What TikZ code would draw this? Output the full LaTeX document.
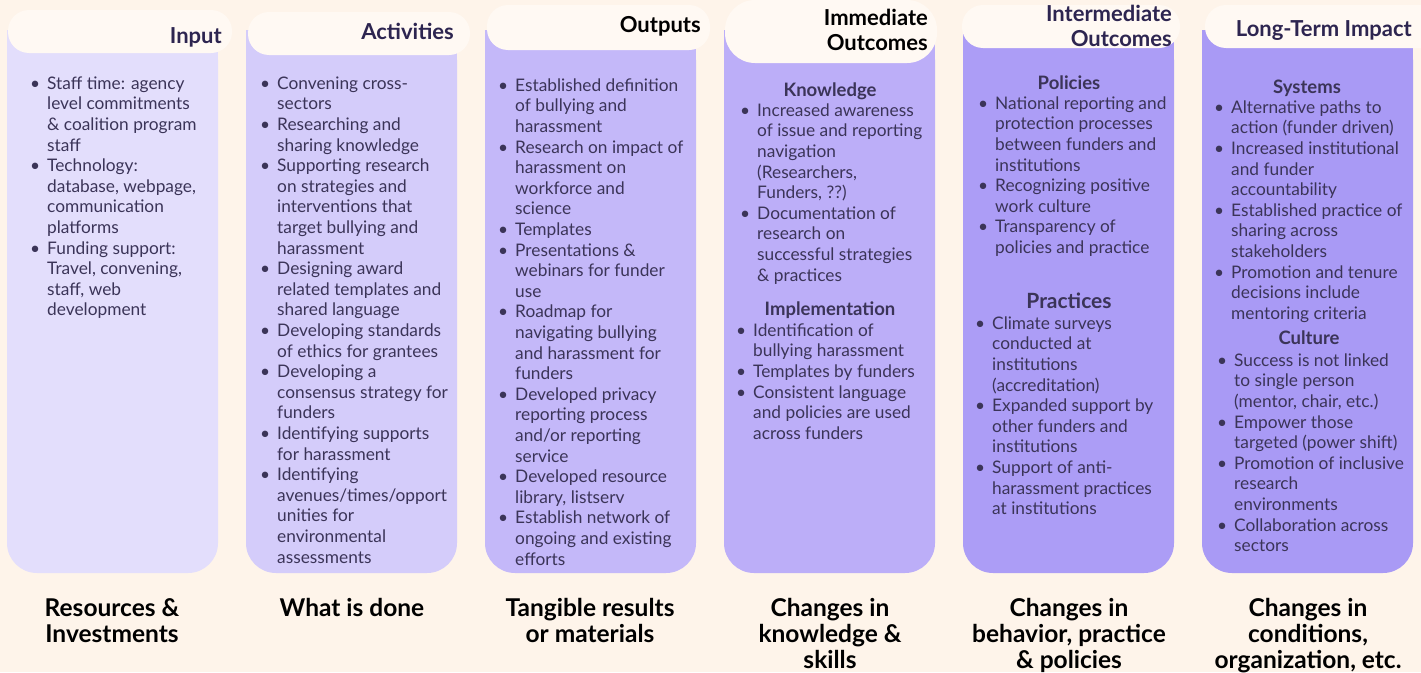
\documentclass[tikz,border=0pt]{standalone}
\usepackage{fontspec}
\setmainfont{Lato}
\usepackage{xcolor}
\definecolor{bgpeach}{HTML}{FEF4EA}
\definecolor{pillcream}{HTML}{FFF9F3}
\definecolor{colA}{HTML}{E3DEFC}
\definecolor{colB}{HTML}{D4CCFA}
\definecolor{colC}{HTML}{C4B8F9}
\definecolor{colD}{HTML}{BCAEF8}
\definecolor{colE}{HTML}{AC9DF6}
\definecolor{colF}{HTML}{A99AF5}
\definecolor{textdark}{HTML}{3B3458}
\definecolor{headdark}{HTML}{2D2550}
\newcommand{\bl}{\llap{\textbullet\hspace{7pt}}\strut}

\begin{document}
\begin{tikzpicture}[x=1pt, y=-1pt,
    pill/.style={fill=pillcream, rounded corners=21pt},
    head/.style={anchor=base east, inner sep=0pt, align=right, text=headdark,
        font=\bfseries\fontsize{22}{25}\selectfont},
    body/.style={anchor=north west, inner sep=0pt, align=left, text=textdark,
        font=\fontsize{17.3}{20.6}\selectfont},
    sub/.style={anchor=base, inner sep=0pt, text=textdark,
        font=\bfseries\fontsize{18.5}{20}\selectfont},
    foot/.style={anchor=base, inner sep=0pt, align=center, text=black,
        font=\bfseries\fontsize{24.5}{26}\selectfont}]

    \useasboundingbox (0,0) rectangle (1421,672);
    \fill[bgpeach] (0,0) rectangle (1421,672);

    
    \foreach \x/\c in {7/colA, 246/colB, 485/colC, 724/colD, 963/colE, 1202/colF} {
        \fill[\c, rounded corners=30pt] (\x,30) rectangle ++(211,543);
        \fill[\c] (\x,30) rectangle ++(211,60);
    }

    
    \fill[pill] (8,10) rectangle (232,53);
    \fill[pill] (248,12) rectangle (470,55);
    \fill[pill] (487,5) rectangle (710,50);
    \fill[pill, rounded corners=30pt] (725,0) rectangle (937,63);
    \fill[pill] (962,5) rectangle (1180,48);
    \fill[pill] (1205,5) rectangle (1445,48);

    
    \node[head] (hin) at (222,43) {Input};
    \node[head] (hact) at (454,39) {Activities};
    \node[head, text=black] (hout) at (701,32) {Outputs};
    \node[head, text=black] (himm) at (928,50) {Immediate\\ Outcomes};
    \node[head] (hint) at (1172,46) {Intermediate\\ Outcomes};
    \node[head] (hlong) at (1412,36) {Long-Term Impact};

    
    \node[body] (in) at (47,74.6) {\bl Staff time: agency\\ level commitments\\
        \& coalition program\\ staff\\ \bl Technology:\\ database, webpage,\\
        communication\\ platforms\\ \bl Funding support:\\ Travel, convening,\\
        staff, web\\ development};

    \node[body] (act) at (277,74.6) {\bl Convening cross-\\ sectors\\
        \bl Researching and\\ sharing knowledge\\
        \bl Supporting research\\ on strategies and\\ interventions that\\
        target bullying and\\ harassment\\
        \bl Designing award\\ related templates and\\ shared language\\
        \bl Developing standards\\ of ethics for grantees\\
        \bl Developing a\\ consensus strategy for\\ funders\\
        \bl Identifying supports\\ for harassment\\
        \bl Identifying\\ avenues/times/opport\\ unities for\\
        environmental\\ assessments};

    \node[body] (out) at (515,76.6) {\bl Established definition\\ of bullying and\\
        harassment\\ \bl Research on impact of\\ harassment on\\ workforce and\\
        science\\ \bl Templates\\ \bl Presentations \&\\ webinars for funder\\ use\\
        \bl Roadmap for\\ navigating bullying\\ and harassment for\\ funders\\
        \bl Developed privacy\\ reporting process\\ and/or reporting\\ service\\
        \bl Developed resource\\ library, listserv\\
        \bl Establish network of\\ ongoing and existing\\ efforts};

    
    \node[sub] (know) at (830,96) {Knowledge};
    \node[body] (knowb) at (757,101.6) {\bl Increased awareness\\ of issue and reporting\\
        navigation\\ (Researchers,\\ Funders, ??)\\ \bl Documentation of\\
        research on\\ successful strategies\\ \& practices};
    \node[sub] (impl) at (830,315) {Implementation};
    \node[body] (implb) at (753,321.6) {\bl Identification of\\ bullying harassment\\
        \bl Templates by funders\\ \bl Consistent language\\
        and policies are used\\ across funders};

    
    \node[sub] (pol) at (1069,89) {Policies};
    \node[body] (polb) at (995,94.6) {\bl National reporting and\\ protection processes\\
        between funders and\\ institutions\\ \bl Recognizing positive\\
        work culture\\ \bl Transparency of\\ policies and practice};
    \node[sub, font=\bfseries\fontsize{21}{22}\selectfont] (prac) at (1069,308) {Practices};
    \node[body] (pracb) at (992,314.6) {\bl Climate surveys\\ conducted at\\ institutions\\
        (accreditation)\\ \bl Expanded support by\\ other funders and\\ institutions\\
        \bl Support of anti-\\ harassment practices\\ at institutions};

    
    \node[sub] (sys) at (1307,93) {Systems};
    \node[body] (sysb) at (1231,98.6) {\bl Alternative paths to\\ action (funder driven)\\
        \bl Increased institutional\\ and funder\\ accountability\\
        \bl Established practice of\\ sharing across\\ stakeholders\\
        \bl Promotion and tenure\\ decisions include\\ mentoring criteria};
    \node[sub] (cul) at (1309,344) {Culture};
    \node[body] (culb) at (1234,351.6) {\bl Success is not linked\\ to single person\\
        (mentor, chair, etc.)\\ \bl Empower those\\ targeted (power shift)\\
        \bl Promotion of inclusive\\ research\\ environments\\
        \bl Collaboration across\\ sectors};

    
    \node[foot] (fin) at (112,642) {Resources \&\\ Investments};
    \node[foot] (fact) at (352,616) {What is done};
    \node[foot] (fout) at (590,642) {Tangible results\\ or materials};
    \node[foot] (fimm) at (830,668) {Changes in\\ knowledge \&\\ skills};
    \node[foot] (fint) at (1069,668) {Changes in\\ behavior, practice\\ \& policies};
    \node[foot] (flong) at (1308,668) {Changes in\\ conditions,\\ organization, etc.};

\end{tikzpicture}
\end{document}
